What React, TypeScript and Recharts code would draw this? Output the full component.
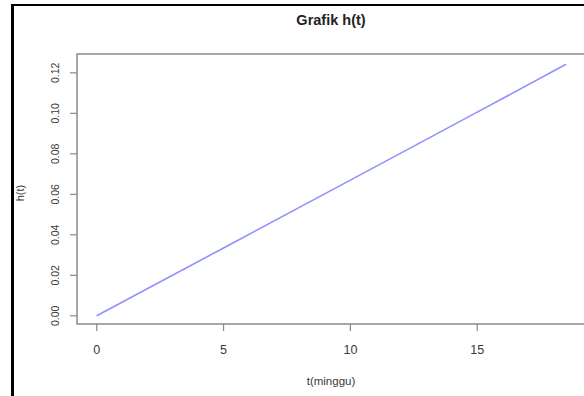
import React from "react";
import { LineChart, Line, XAxis, YAxis, ReferenceArea } from "recharts";

const tValues = [0, 5, 10, 15, 18.5];
const hValues = [0, 0.0335, 0.067, 0.1006, 0.1242];
const xTicks = [0, 5, 10, 15];
const yTicks = [0, 0.02, 0.04, 0.06, 0.08, 0.1, 0.12];
const titleText = "Grafik h(t)";
const xLabel = "t(minggu)";
const yLabel = "h(t)";

const data = tValues.map((t, i) => ({ t, h: hValues[i] }));

const X_DOMAIN: [number, number] = [-0.7765, 19.287];
const Y_DOMAIN: [number, number] = [-0.00405, 0.1293];

const FONT = "'Liberation Sans', Arial, Helvetica, sans-serif";
const TEXT = "#3a3a3a";
const BOX = "#8a8a8a";

const YTick = (props: any) => {
  const { x, y, payload } = props;
  return (
    <text
      x={x}
      y={y}
      transform={`rotate(-90 ${x} ${y})`}
      textAnchor="middle"
      fontSize={10.5}
      fontFamily={FONT}
      fill={TEXT}
    >
      {Number(payload.value).toFixed(2)}
    </text>
  );
};

export default function App() {
  return (
    <div
      style={{
        position: "absolute",
        left: 0,
        top: 0,
        width: 584,
        height: 396,
        overflow: "hidden",
        background: "#fff",
      }}
    >
      <div
        style={{
          position: "absolute",
          left: 11,
          top: 4,
          width: 600,
          height: 400,
          borderLeft: "3px solid #000",
          borderTop: "2px solid #000",
        }}
      />
      <div style={{ position: "absolute", left: 0, top: 0 }}>
        <LineChart
          width={600}
          height={396}
          data={data}
          margin={{ top: 54, left: 37, right: 14, bottom: 32 }}
        >
          <XAxis
            type="number"
            dataKey="t"
            domain={X_DOMAIN}
            allowDataOverflow
            ticks={xTicks}
            height={40}
            axisLine={false}
            tickLine={{ stroke: BOX, strokeWidth: 1.2 }}
            tickSize={7}
            tickMargin={14}
            tick={{ fontSize: 12.5, fill: TEXT, fontFamily: FONT }}
          />
          <YAxis
            type="number"
            domain={Y_DOMAIN}
            allowDataOverflow
            ticks={yTicks}
            width={40}
            axisLine={false}
            tickLine={{ stroke: BOX, strokeWidth: 1.2 }}
            tickSize={7}
            tickMargin={11}
            tick={<YTick />}
          />
          <ReferenceArea
            x1={X_DOMAIN[0]}
            x2={X_DOMAIN[1]}
            y1={Y_DOMAIN[0]}
            y2={Y_DOMAIN[1]}
            fill="none"
            stroke={BOX}
            strokeWidth={1.5}
            ifOverflow="visible"
          />
          <Line
            type="linear"
            dataKey="h"
            stroke="#9090ff"
            strokeWidth={1.6}
            dot={false}
            isAnimationActive={false}
          />
        </LineChart>
      </div>
      <div
        style={{
          position: "absolute",
          left: 231,
          width: 200,
          top: 11,
          textAlign: "center",
          fontFamily: FONT,
          fontWeight: "bold",
          fontSize: 14.5,
          color: "#222",
          lineHeight: "18px",
        }}
      >
        {titleText}
      </div>
      <div
        style={{
          position: "absolute",
          left: 231,
          width: 200,
          top: 373,
          textAlign: "center",
          fontFamily: FONT,
          fontSize: 11.5,
          color: TEXT,
          lineHeight: "16px",
        }}
      >
        {xLabel}
      </div>
      <div
        style={{
          position: "absolute",
          left: -30,
          width: 100,
          top: 185,
          textAlign: "center",
          fontFamily: FONT,
          fontSize: 11,
          color: TEXT,
          lineHeight: "16px",
          transform: "rotate(-90deg)",
        }}
      >
        {yLabel}
      </div>
    </div>
  );
}
